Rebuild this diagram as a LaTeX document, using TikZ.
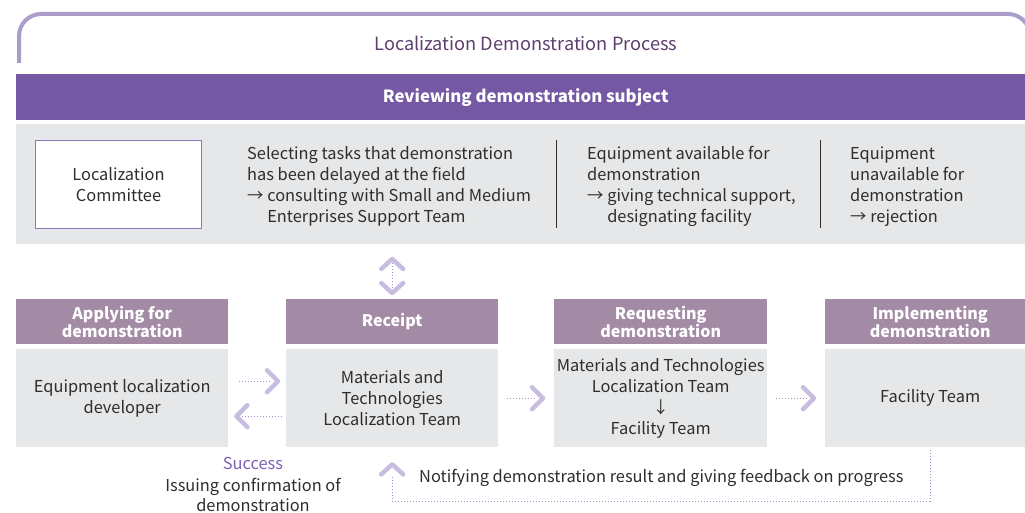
\documentclass[tikz,border=0pt]{standalone}
\usepackage{fontspec}
\setmainfont{Noto Sans CJK KR}
\usetikzlibrary{calc, positioning}

\definecolor{framepurple}{HTML}{AB9DCB}
\definecolor{bannerpurple}{HTML}{7458A4}
\definecolor{headmauve}{HTML}{A38BA6}
\definecolor{panelgrey}{HTML}{E6E7E8}
\definecolor{chevpurple}{HTML}{C8BDE0}
\definecolor{dotpurple}{HTML}{A88FD0}
\definecolor{titlepurple}{HTML}{5B3F6E}
\definecolor{textgrey}{HTML}{2E2E2E}
\definecolor{linkpurple}{HTML}{7B60B5}
\definecolor{boxline}{HTML}{8C76BB}

\begin{document}
\begin{tikzpicture}[x=1pt, y=-1pt, font=\fontsize{16.4}{21}\selectfont, text=textgrey,
	stephead/.style={fill=headmauve, text=white, font=\bfseries\fontsize{16}{17}\selectfont, align=center, minimum width=212pt, minimum height=45pt, inner sep=0pt, anchor=north west},
	stepbody/.style={fill=panelgrey, align=center, minimum width=212pt, minimum height=98pt, inner sep=0pt, anchor=north west},
	coltext/.style={align=left, inner sep=0pt, anchor=west},
	dotline/.style={dotpurple, line width=1pt, dotted},
	chev/.style={chevpurple, line width=4.5pt, line cap=round, line join=round}]
		
		\useasboundingbox (0,0) rectangle (1025,513);
		
		% --- TOP: FRAME, TITLE AND BANNER ---
		\draw[framepurple, line width=4pt, rounded corners=22pt] (19,63) -- (19,14) -- (1030,14) -- (1030,63);
		\node[text=titlepurple, font=\fontsize{18.2}{21}\selectfont] (Title) at (526,43) {Localization Demonstration Process};
		
		\node[fill=bannerpurple, text=white, font=\bfseries\fontsize{16.8}{21}\selectfont, minimum width=1019pt, minimum height=46pt, inner sep=0pt, anchor=north west] (Banner) at (16,74) {Reviewing demonstration subject};
		
		% Review panel
		\node[fill=panelgrey, minimum width=1019pt, minimum height=120pt, inner sep=0pt, anchor=north west] (Panel) at (16,124) {};
		\node[draw=boxline, line width=1pt, fill=white, minimum width=166pt, minimum height=88pt, align=center, anchor=north west] (Committee) at (35,140) {Localization\\Committee};
		
		\node[coltext] (Delayed) at (247,186.5) {Selecting tasks that demonstration\\has been delayed at the field\\→ consulting with Small and Medium\\\phantom{→ }Enterprises Support Team};
		\node[coltext] (Available) at (587,186.5) {Equipment available for\\demonstration\\→ giving technical support,\\\phantom{→ }designating facility};
		\node[coltext] (Unavailable) at (850,186.5) {Equipment\\unavailable for\\demonstration\\→ rejection};
		
		\draw[textgrey, line width=1pt] (556,140) -- (556,228);
		\draw[textgrey, line width=1pt] (820,140) -- (820,228);
		
		% --- BOTTOM: THE FOUR STEPS ---
		\node[stephead] (ApplyHead) at (16,299) {Applying for\\demonstration};
		\node[stepbody] (Apply) at (16,349) {Equipment localization\\developer};
		
		\node[stephead] (ReceiptHead) at (286,299) {Receipt};
		\node[stepbody] (Receipt) at (286,349) {Materials and\\Technologies\\Localization Team};
		
		\node[stephead, minimum width=213pt] (RequestHead) at (554,299) {Requesting\\demonstration};
		\node[stepbody, minimum width=213pt] (Request) at (554,349) {Materials and Technologies\\Localization Team\\↓\\Facility Team};
		
		\node[stephead, minimum width=210pt] (ImplementHead) at (825,299) {Implementing\\demonstration};
		\node[stepbody, minimum width=210pt] (Implement) at (825,349) {Facility Team};
		
		% Panel <-> Receipt
		\coordinate (ReviewUp) at ($(ReceiptHead.north)+(0,-40)$);
		\coordinate (ReviewDown) at ($(ReceiptHead.north)+(0,-6)$);
		\draw[dotline] ($(ReviewUp)+(0,4)$) -- ($(ReviewDown)+(0,-4)$);
		\draw[chev] ($(ReviewUp)+(-11,10)$) -- (ReviewUp) -- ($(ReviewUp)+(11,10)$);
		\draw[chev] ($(ReviewDown)+(-11,-10)$) -- (ReviewDown) -- ($(ReviewDown)+(11,-10)$);
		
		% Apply -> Receipt
		\coordinate (ApplyTip) at ($(Receipt.west)+(-8,-17)$);
		\draw[dotline] ($(Apply.east)+(11,-17)$) -- ($(ApplyTip)+(-6,0)$);
		\draw[chev] ($(ApplyTip)+(-11,-11)$) -- (ApplyTip) -- ($(ApplyTip)+(-11,11)$);
		
		% Receipt -> Apply
		\coordinate (ConfirmTip) at ($(Apply.east)+(8,18)$);
		\draw[dotline] ($(Receipt.west)+(-4,18)$) -- ($(ConfirmTip)+(6,0)$);
		\draw[chev] ($(ConfirmTip)+(11,-11)$) -- (ConfirmTip) -- ($(ConfirmTip)+(11,11)$);
		
		% Receipt -> Request
		\coordinate (RequestTip) at ($(Request.west)+(-11,0)$);
		\draw[dotline] ($(Receipt.east)+(9,0)$) -- ($(RequestTip)+(-6,0)$);
		\draw[chev] ($(RequestTip)+(-11,-11)$) -- (RequestTip) -- ($(RequestTip)+(-11,11)$);
		
		% Request -> Implement
		\coordinate (ImplementTip) at ($(Implement.west)+(-11,0)$);
		\draw[dotline] ($(Request.east)+(9,0)$) -- ($(ImplementTip)+(-6,0)$);
		\draw[chev] ($(ImplementTip)+(-11,-11)$) -- (ImplementTip) -- ($(ImplementTip)+(-11,11)$);
		
		% Implement -> Receipt (feedback)
		\coordinate (FeedbackTip) at ($(Receipt.south)+(0,17)$);
		\draw[dotline] ($(Implement.south)+(0,3)$) -- ($(Implement.south)+(0,54)$) -| ($(FeedbackTip)+(0,12)$);
		\draw[chev] ($(FeedbackTip)+(-11,10)$) -- (FeedbackTip) -- ($(FeedbackTip)+(11,10)$);
		\node[anchor=west, inner sep=0pt] (Feedback) at (419,478) {Notifying demonstration result and giving feedback on progress};
		
		% Confirmation
		\node[text=linkpurple, inner sep=0pt] (Success) at (253,463) {Success};
		\node[align=center, inner sep=0pt, font=\fontsize{16.4}{20}\selectfont, below=9pt of Success] (Confirm) {Issuing confirmation of\\demonstration};
		
	\end{tikzpicture}
\end{document}
